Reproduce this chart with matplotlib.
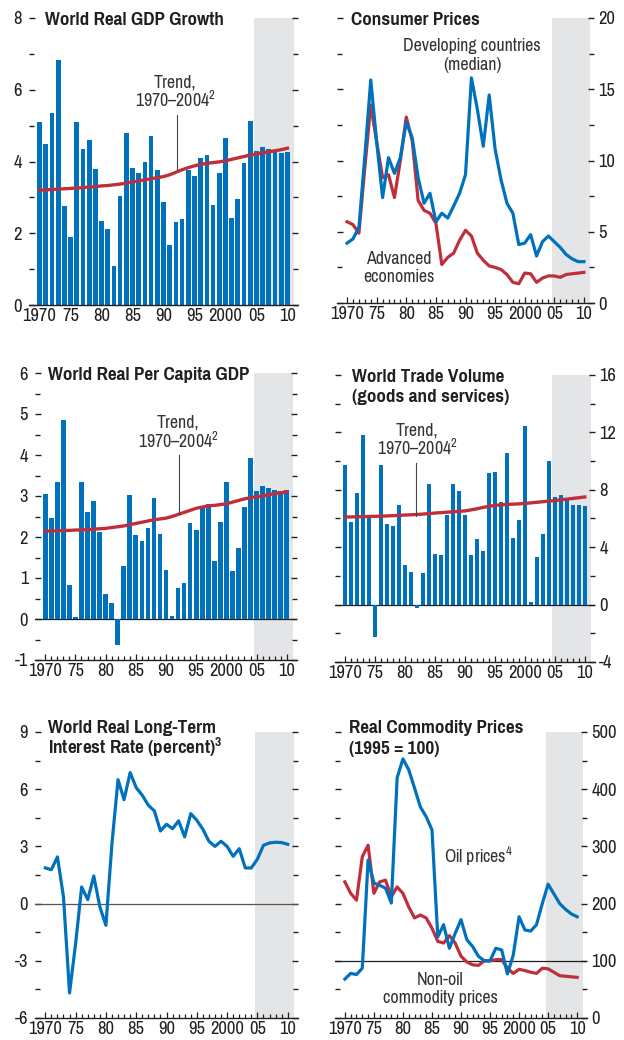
import matplotlib
matplotlib.use('Agg')
import matplotlib.pyplot as plt
from matplotlib import font_manager

# condensed sans to match the IMF style; take the first one installed
available = {f.name for f in font_manager.fontManager.ttflist}
NARROW = 'DejaVu Sans'
for cand in ['Liberation Sans Narrow', 'Arial Narrow', 'Pragati Narrow',
             'PT Sans Narrow', 'Fira Sans Condensed', 'Barlow Semi Condensed']:
    if cand in available:
        NARROW = cand
        break

plt.rcParams['font.family'] = [NARROW, 'DejaVu Sans']
plt.rcParams['axes.unicode_minus'] = False
plt.rcParams['mathtext.fontset'] = 'custom'
plt.rcParams['mathtext.rm'] = NARROW
plt.rcParams['mathtext.it'] = NARROW
plt.rcParams['mathtext.bf'] = NARROW + ':bold'

BLUE = '#0071BC'
RED = '#BF2F3B'
SHADE = '#E4E5E7'
DARK = '#231F20'
GREY_TXT = '#333333'

years = list(range(1970, 2011))
x_major = [1970, 1975, 1980, 1985, 1990, 1995, 2000, 2005, 2010]
x_tick_labels = ['1970', '75', '80', '85', '90', '95', '2000', '05', '10']

# World real GDP growth (bars) and trend
gdp_growth = [5.10, 4.49, 5.35, 6.84, 2.76, 1.90, 5.10, 4.35, 4.60, 3.80,
              2.34, 2.11, 1.09, 3.04, 4.80, 3.81, 3.67, 3.99, 4.72, 3.77,
              2.87, 1.67, 2.32, 2.40, 3.77, 3.60, 4.10, 4.19, 2.79, 3.68,
              4.66, 2.43, 2.96, 3.96, 5.13, 4.30, 4.41, 4.35, 4.31, 4.24, 4.27]
gdp_trend = [3.20, 3.21, 3.22, 3.23, 3.24, 3.25, 3.26, 3.27, 3.29, 3.30,
             3.32, 3.33, 3.35, 3.37, 3.40, 3.43, 3.46, 3.49, 3.52, 3.55,
             3.58, 3.63, 3.70, 3.77, 3.83, 3.88, 3.92, 3.95, 3.97, 3.99,
             4.02, 4.06, 4.10, 4.14, 4.18, 4.21, 4.24, 4.27, 4.30, 4.33, 4.37]

# Consumer prices
cpi_developing = [4.2, 4.5, 5.3, 10.3, 15.65, 11.3, 7.4, 10.2, 9.1, 10.2,
                  12.7, 11.6, 8.8, 7.0, 7.7, 5.7, 6.3, 5.96, 6.8, 7.7,
                  9.0, 15.8, 13.6, 11.0, 14.6, 10.8, 8.65, 7.0, 6.3, 4.1,
                  4.2, 4.8, 3.3, 4.3, 4.7, 4.3, 3.9, 3.4, 3.1, 2.9, 2.9]
cpi_advanced = [5.7, 5.5, 4.9, 9.5, 13.9, 11.3, 8.8, 9.0, 7.4, 10.0,
                13.05, 11.4, 7.2, 6.5, 6.3, 5.6, 2.7, 3.2, 3.5, 4.4,
                5.1, 4.7, 3.5, 3.0, 2.6, 2.5, 2.35, 2.0, 1.45, 1.35,
                2.1, 2.05, 1.45, 1.75, 1.9, 1.9, 1.8, 2.0, 2.05, 2.1, 2.15]

# World real per capita GDP
pc_gdp = [3.06, 2.47, 3.35, 4.86, 0.84, 0.06, 3.33, 2.61, 2.89, 2.11,
          0.62, 0.40, -0.63, 1.30, 3.03, 2.06, 1.91, 2.23, 2.96, 2.07,
          1.20, 0.08, 0.76, 0.89, 2.33, 2.18, 2.74, 2.81, 1.42, 2.37,
          3.35, 1.18, 1.72, 2.74, 3.93, 3.13, 3.25, 3.20, 3.15, 3.13, 3.15]
pc_trend = [2.14, 2.15, 2.15, 2.16, 2.16, 2.17, 2.17, 2.18, 2.19, 2.20,
            2.21, 2.23, 2.25, 2.27, 2.30, 2.33, 2.36, 2.39, 2.42, 2.44,
            2.46, 2.50, 2.55, 2.60, 2.65, 2.70, 2.73, 2.76, 2.77, 2.79,
            2.81, 2.85, 2.89, 2.93, 2.96, 2.98, 3.00, 3.03, 3.06, 3.08, 3.10]

# World trade volume
trade = [9.74, 5.74, 7.78, 11.85, 6.09, -2.27, 9.74, 5.60, 5.46, 6.93,
         2.79, 2.30, -0.23, 2.22, 8.41, 3.56, 3.49, 6.23, 8.41, 7.92,
         6.23, 3.49, 4.54, 3.77, 9.18, 9.25, 7.14, 10.59, 4.61, 5.88,
         12.48, 0.19, 3.35, 4.89, 10.02, 7.49, 7.63, 7.28, 6.93, 6.93, 6.86]
trade_trend = [6.10, 6.11, 6.12, 6.13, 6.14, 6.15, 6.16, 6.18, 6.20, 6.22,
               6.24, 6.26, 6.28, 6.31, 6.34, 6.38, 6.41, 6.44, 6.47, 6.50,
               6.53, 6.60, 6.68, 6.77, 6.85, 6.91, 6.95, 6.98, 7.00, 7.02,
               7.05, 7.09, 7.13, 7.17, 7.21, 7.25, 7.30, 7.35, 7.40, 7.45, 7.50]

# World real long-term interest rate
interest = [1.87, 1.78, 2.45, 0.35, -4.69, -2.10, 0.87, 0.21, 1.45, -0.17,
            -1.14, 3.15, 6.50, 5.45, 6.87, 6.08, 5.68, 5.16, 4.86, 3.81,
            4.16, 3.93, 4.34, 3.50, 4.72, 4.37, 3.90, 3.27, 3.00, 3.27,
            3.00, 2.48, 2.88, 1.87, 1.87, 2.33, 3.06, 3.18, 3.22, 3.20, 3.11]

# Real commodity prices (1995 = 100)
oil = [68, 78, 76, 87, 276, 236, 232, 227, 201, 420,
       453, 434, 402, 369, 352, 329, 142, 163, 122, 148,
       172, 137, 125, 108, 100, 100, 122, 119, 77, 110,
       177, 154, 152, 163, 200, 234, 217, 200, 190, 182, 177]
non_oil = [238, 218, 206, 282, 302, 218, 238, 241, 212, 229,
           218, 194, 175, 180, 175, 157, 134, 131, 144, 131,
           108, 98, 93, 92, 100, 100, 102, 102, 87, 78,
           85, 83, 80, 78, 87, 86, 80, 74, 73, 72, 71]

W, H = 624, 1040
fig = plt.figure(figsize=(W / 100, H / 100), dpi=100)
FS = 14.0        # notes on the panels
FS_TITLE = 15.0  # bold panel titles
FS_TICK = 14.5   # axis numbers


def px_axes(x0, y0, x1, y1):
    return fig.add_axes([x0 / W, 1 - y1 / H, (x1 - x0) / W, (y1 - y0) / H])


def px_text(x, y, s, **kw):
    kw.setdefault('fontsize', FS)
    kw.setdefault('va', 'baseline')
    fig.text(x / W, 1 - y / H, s, **kw)


def title(x, y, s):
    px_text(x, y, s, fontweight='bold', color=DARK, fontsize=FS_TITLE)


def setup(ax, ylim, major, minor, labels_right, labels):
    ax.set_facecolor('none')
    ax.set_axisbelow(True)
    ax.set_xlim(1968.3, 2011.7)
    ax.set_ylim(*ylim)
    ax.axvspan(2004.6, 2011.0, color=SHADE, lw=0, zorder=0)
    for s in ['left', 'right', 'top']:
        ax.spines[s].set_visible(False)
    ax.spines['bottom'].set_color(DARK)
    ax.spines['bottom'].set_linewidth(1.0)
    ax.set_xticks(x_major)
    ax.set_xticklabels(x_tick_labels)
    ax.set_xticks(years, minor=True)
    ax.tick_params(axis='x', which='major', direction='in', length=4.5,
                   width=0.9, pad=2, labelsize=FS_TICK, colors=DARK)
    ax.tick_params(axis='x', which='minor', direction='in', length=3,
                   width=0.9, colors=DARK)
    ax.set_yticks(major)
    ax.set_yticklabels(labels)
    ax.set_yticks(minor, minor=True)
    ax.tick_params(axis='y', which='both', direction='in', left=True,
                   right=True, labelleft=not labels_right,
                   labelright=labels_right, width=1.0, colors=DARK,
                   labelsize=FS_TICK)
    ax.tick_params(axis='y', which='major', length=4.5,
                   pad=3 if labels_right else 5)
    ax.tick_params(axis='y', which='minor', length=3.5)


def trend_note(ax, x, y0, y1):
    ax.plot([x, x], [y0, y1], color='#444444', lw=0.8, zorder=3)


# --- panel 1: world real GDP growth
ax1 = px_axes(29, 18, 298, 305)
setup(ax1, (0, 8), [0, 2, 4, 6, 8], [1, 3, 5, 7], False,
      ['0', '2', '4', '6', '8'])
ax1.bar(years, gdp_growth, width=0.77, color=BLUE, zorder=2)
ax1.plot(years, gdp_trend, color=RED, lw=2.4, zorder=3)
trend_note(ax1, 1992.1, 3.75, 5.3)
title(45, 25, 'World Real GDP Growth')
px_text(175, 88, 'Trend,', ha='center', color=GREY_TXT)
px_text(175, 107, '1970\u20132004$^{2}$', ha='center', color=GREY_TXT)

# --- panel 2: consumer prices
ax2 = px_axes(337, 18, 594, 303)
setup(ax2, (0, 20), [0, 5, 10, 15, 20], [2.5, 7.5, 12.5, 17.5], True,
      ['0', '5', '10', '15', '20'])
ax2.plot(years, cpi_advanced, color=RED, lw=2.3, zorder=3)
ax2.plot(years, cpi_developing, color=BLUE, lw=2.3, zorder=4)
title(351, 25, 'Consumer Prices')
px_text(472, 51, 'Developing countries', ha='center', color=GREY_TXT)
px_text(472, 70, '(median)', ha='center', color=GREY_TXT)
px_text(399, 264, 'Advanced', ha='center', color=GREY_TXT)
px_text(399, 282, 'economies', ha='center', color=GREY_TXT)

# --- panel 3: world real per capita GDP
ax3 = px_axes(35, 373, 297, 660)
setup(ax3, (-1, 6), [-1, 0, 1, 2, 3, 4, 5, 6],
      [-0.5, 0.5, 1.5, 2.5, 3.5, 4.5, 5.5], False,
      ['-1', '0', '1', '2', '3', '4', '5', '6'])
ax3.axhline(0, color=DARK, lw=0.9, zorder=1.5)
ax3.bar(years, pc_gdp, width=0.77, color=BLUE, zorder=2)
ax3.plot(years, pc_trend, color=RED, lw=2.4, zorder=3)
trend_note(ax3, 1992.2, 2.55, 4.0)
title(48, 380, 'World Real Per Capita GDP')
px_text(178, 428, 'Trend,', ha='center', color=GREY_TXT)
px_text(178, 448, '1970\u20132004$^{2}$', ha='center', color=GREY_TXT)

# --- panel 4: world trade volume
ax4 = px_axes(335, 375, 595, 662)
setup(ax4, (-4, 16), [-4, 0, 4, 8, 12, 16], [-2, 2, 6, 10, 14], True,
      ['-4', '0', '4', '8', '12', '16'])
ax4.axhline(0, color=DARK, lw=0.9, zorder=1.5)
ax4.bar(years, trade, width=0.77, color=BLUE, zorder=2)
ax4.plot(years, trade_trend, color=RED, lw=2.4, zorder=3)
trend_note(ax4, 1981.9, 6.2, 9.9)
title(352, 382, 'World Trade Volume')
title(352, 402, '(goods and services)')
px_text(417, 435, 'Trend,', ha='center', color=GREY_TXT)
px_text(417, 455, '1970\u20132004$^{2}$', ha='center', color=GREY_TXT)

# --- panel 5: world real long-term interest rate
ax5 = px_axes(35, 732, 298, 1018)
setup(ax5, (-6, 9), [-6, -3, 0, 3, 6, 9], [-4.5, -1.5, 1.5, 4.5, 7.5], False,
      ['-6', '-3', '0', '3', '6', '9'])
ax5.axhline(0, color='#555555', lw=0.9, zorder=1.5)
ax5.plot(years, interest, color=BLUE, lw=2.3, zorder=3)
title(48, 733, 'World Real Long-Term')
title(48, 754, 'Interest Rate (percent)$^{\\mathbf{3}}$')

# --- panel 6: real commodity prices
ax6 = px_axes(335, 732, 587, 1018)
setup(ax6, (0, 500), [0, 100, 200, 300, 400, 500], [50, 150, 250, 350, 450],
      True, ['0', '100', '200', '300', '400', '500'])
ax6.axhline(100, color=DARK, lw=0.9, zorder=1.5)
ax6.plot(years, non_oil, color=RED, lw=2.3, zorder=3)
ax6.plot(years, oil, color=BLUE, lw=2.3, zorder=4)
title(349, 733, 'Real Commodity Prices')
title(349, 754, '(1995 = 100)')
px_text(444, 863, 'Oil prices$^{4}$', color=GREY_TXT)
px_text(440, 985, 'Non-oil', ha='center', color=GREY_TXT)
px_text(440, 1003, 'commodity prices', ha='center', color=GREY_TXT)

fig.savefig('out.png', dpi=100, facecolor='white')
plt.close(fig)
